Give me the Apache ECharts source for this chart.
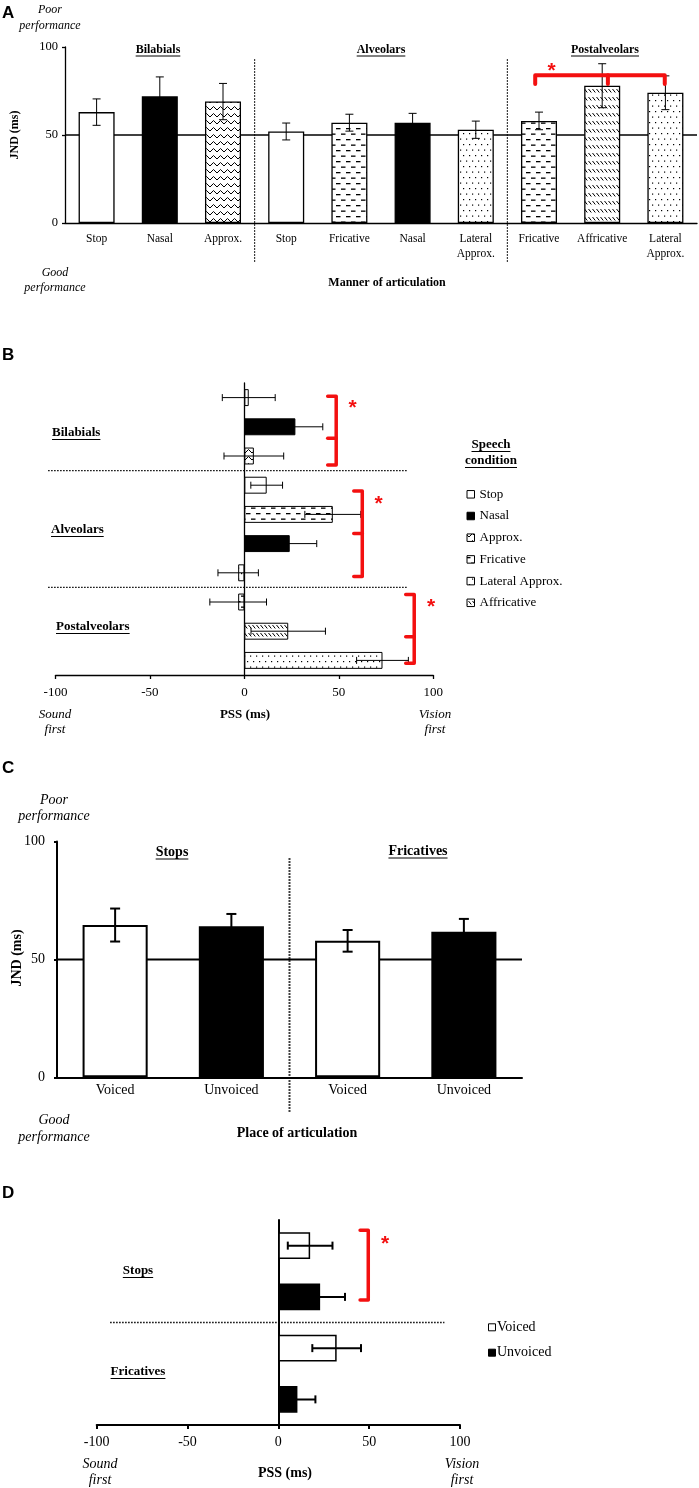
<!DOCTYPE html>
<html>
<head>
<meta charset="utf-8">
<script src="https://cdn.jsdelivr.net/npm/echarts@6/dist/echarts.min.js"></script>
<style>
  html, body { margin: 0; padding: 0; background: #fff; }
  #chart { width: 699px; height: 1488px; }
</style>
</head>
<body>
<div id="chart"></div>
<script>
// ---- data ----
// A: JND (ms) by manner of articulation
const aCategories = ['Stop', 'Nasal', 'Approx.', 'Stop', 'Fricative', 'Nasal', 'Lateral\nApprox.', 'Fricative', 'Affricative', 'Lateral\nApprox.'];
const aKinds = ['stop', 'nasal', 'approx', 'stop', 'fricative', 'nasal', 'lateral', 'fricative', 'affricative', 'lateral'];
const aValues = [63, 72, 69, 52, 57, 57, 53, 58, 78, 74];
const aErrors = [7.5, 11, 10.3, 4.8, 4.8, 5.3, 4.9, 5, 12.5, 9.6];
const aGroups = ['Bilabials', 'Alveolars', 'Postalveolars'];

// B: PSS (ms), same ten conditions top to bottom
const bKinds = ['stop', 'nasal', 'approx', 'stop', 'fricative', 'nasal', 'lateral', 'fricative', 'affricative', 'lateral'];
const bValues = [2.3, 27, 5, 11.8, 46.8, 24, -3.3, -3.3, 23.2, 73.1];
const bErrors = [14, 14.5, 15.8, 8.4, 14.8, 14.3, 10.7, 15, 19.7, 13.7];
const bLegend = ['Stop', 'Nasal', 'Approx.', 'Fricative', 'Lateral Approx.', 'Affricative'];
const bLegendKinds = ['stop', 'nasal', 'approx', 'fricative', 'lateral', 'affricative'];

// C: JND (ms) by voicing
const cCategories = ['Voiced', 'Unvoiced', 'Voiced', 'Unvoiced'];
const cKinds = ['voiced', 'unvoiced', 'voiced', 'unvoiced'];
const cValues = [64.6, 64.1, 57.9, 61.7];
const cErrors = [7, 5.2, 4.6, 5.5];
const cGroups = ['Stops', 'Fricatives'];

// D: PSS (ms) by voicing
const dKinds = ['voiced', 'unvoiced', 'voiced', 'unvoiced'];
const dValues = [17.5, 23, 32.1, 10.5];
const dErrors = [12.3, 13.7, 13.4, 9.9];
const dLegend = ['Voiced', 'Unvoiced'];

// significance brackets (annotation geometry, in axis units)
const aBracket = { from: 6.94, mid: 8.09, to: 8.99, level: 84, tickTo: 79, star: [7.2, 89] };
const bBrackets = [
  { x: 48.6, top: -0.05, mid: 1.39, bottom: 2.31, tick: 4.5, star: [57.3, 0.18] },
  { x: 62.4, top: 3.2, mid: 4.65, bottom: 6.13, tick: 4.5, star: [71.1, 3.47] },
  { x: 89.9, top: 6.74, mid: 8.19, bottom: 9.1, tick: 4.5, star: [98.8, 7.02] }
];
const dBrackets = [{ x: 49.5, top: -0.3, mid: null, bottom: 1.06, tick: 4.5, star: [58.7, -0.12] }];

const SERIF = "'Liberation Serif', 'Times New Roman', serif";
const SANS = "'Liberation Sans', Arial, sans-serif";
const RED = '#f31010';

// hatch fills
function pattern(kind) {
  const c = document.createElement('canvas');
  if (kind === 'approx') { c.width = 7; c.height = 7; }
  else if (kind === 'fricative') { c.width = 10; c.height = 11; }
  else if (kind === 'lateral') { c.width = 6; c.height = 11; }
  else { c.width = 4; c.height = 8; }
  const g = c.getContext('2d');
  g.fillStyle = '#fff';
  g.fillRect(0, 0, c.width, c.height);
  g.fillStyle = '#000';
  g.strokeStyle = '#000';
  g.lineWidth = 1;
  if (kind === 'approx') {
    g.beginPath(); g.moveTo(0, 5); g.lineTo(3.5, 1.5); g.lineTo(7, 5); g.stroke();
  } else if (kind === 'fricative') {
    g.fillRect(1, 1.5, 4.5, 1.3);
    g.fillRect(6, 7, 4, 1.3);
    g.fillRect(0, 7, 0.5, 1.3);
  } else if (kind === 'lateral') {
    g.fillRect(1, 1, 1.2, 1.2);
    g.fillRect(4, 6.5, 1.2, 1.2);
  } else {
    g.beginPath(); g.moveTo(0.5, 1); g.lineTo(3.3, 4.5); g.stroke();
  }
  return { image: c, repeat: 'repeat' };
}

const fills = {
  stop: '#fff', nasal: '#000', voiced: '#fff', unvoiced: '#000',
  approx: pattern('approx'), fricative: pattern('fricative'),
  lateral: pattern('lateral'), affricative: pattern('affricative')
};

function barData(vals, kinds) {
  return vals.map((v, i) => ({ value: v, itemStyle: { color: fills[kinds[i]] } }));
}

// point on a category axis allowing fractional category positions
function pt(api, cat, val, catIsX) {
  const base = Math.max(0, Math.floor(cat));
  const frac = cat - base;
  if (catIsX) {
    const p = api.coord([base, val]);
    return [p[0] + frac * api.size([1, 0])[0], p[1]];
  }
  const p = api.coord([val, base]);
  return [p[0], p[1] + frac * api.size([0, 1])[1]];
}

function errorBars(idx, vals, errs, horizontal, cap, width) {
  return {
    type: 'custom', xAxisIndex: idx, yAxisIndex: idx, z: 3, silent: true,
    data: vals.map((v, i) => horizontal ? [v, i] : [i, v]),
    renderItem(params, api) {
      const i = params.dataIndex, v = vals[i], e = errs[i];
      const st = { stroke: '#000', lineWidth: width };
      const a = horizontal ? api.coord([v - e, i]) : api.coord([i, v - e]);
      const b = horizontal ? api.coord([v + e, i]) : api.coord([i, v + e]);
      const kids = [{ type: 'line', shape: { x1: a[0], y1: a[1], x2: b[0], y2: b[1] }, style: st }];
      [a, b].forEach(p => {
        kids.push(horizontal
          ? { type: 'line', shape: { x1: p[0], y1: p[1] - cap, x2: p[0], y2: p[1] + cap }, style: st }
          : { type: 'line', shape: { x1: p[0] - cap, y1: p[1], x2: p[0] + cap, y2: p[1] }, style: st });
      });
      return { type: 'group', children: kids };
    }
  };
}

function refLine(idx, value, width) {
  return {
    type: 'custom', xAxisIndex: idx, yAxisIndex: idx, z: 1, silent: true,
    data: [[0, value]],
    renderItem(params, api) {
      const cs = params.coordSys;
      const y = api.coord([0, value])[1];
      return { type: 'line', shape: { x1: cs.x, y1: y, x2: cs.x + cs.width, y2: y }, style: { stroke: '#000', lineWidth: width } };
    }
  };
}

// dotted separators between groups: [boundary category, from, to]
function dividers(idx, list, catIsX, width) {
  return {
    type: 'custom', xAxisIndex: idx, yAxisIndex: idx, z: 1, silent: true,
    data: list.map(() => [0, 0]),
    renderItem(params, api) {
      const d = list[params.dataIndex];
      const p1 = pt(api, d[0], d[1], catIsX), p2 = pt(api, d[0], d[2], catIsX);
      return { type: 'line', shape: { x1: p1[0], y1: p1[1], x2: p2[0], y2: p2[1] },
        style: { stroke: '#000', lineWidth: width, lineDash: [1.5, 1.5] } };
    }
  };
}

function star(p) {
  return { type: 'text', x: p[0], y: p[1] + 5,
    style: { text: '*', fill: RED, fontSize: 21, fontWeight: 'bold', fontFamily: SANS,
      align: 'center', verticalAlign: 'middle', textAlign: 'center', textVerticalAlign: 'middle' } };
}

function hBrackets(idx, list, width) {
  return {
    type: 'custom', xAxisIndex: idx, yAxisIndex: idx, z: 5, silent: true,
    data: list.map(() => [0, 0]),
    renderItem(params, api) {
      const b = list[params.dataIndex];
      const st = { stroke: RED, fill: null, lineWidth: width, lineJoin: 'round', lineCap: 'round' };
      const top = pt(api, b.top, b.x, false), bot = pt(api, b.bottom, b.x, false);
      const tx = api.coord([b.x - b.tick, 0])[0];
      const kids = [{ type: 'polyline', shape: { points: [[tx, top[1]], top, bot, [tx, bot[1]]] }, style: st }];
      if (b.mid != null) {
        const m = pt(api, b.mid, b.x, false);
        kids.push({ type: 'line', shape: { x1: tx, y1: m[1], x2: m[0], y2: m[1] }, style: st });
      }
      kids.push(star(pt(api, b.star[1], b.star[0], false)));
      return { type: 'group', children: kids };
    }
  };
}

function vBracket(idx, b, width) {
  return {
    type: 'custom', xAxisIndex: idx, yAxisIndex: idx, z: 5, silent: true,
    data: [[0, 0]],
    renderItem(params, api) {
      const st = { stroke: RED, fill: null, lineWidth: width, lineJoin: 'round', lineCap: 'round' };
      const l = pt(api, b.from, b.level, true), r = pt(api, b.to, b.level, true);
      const m = pt(api, b.mid, b.level, true);
      const ty = api.coord([0, b.tickTo])[1];
      return { type: 'group', children: [
        { type: 'polyline', shape: { points: [[l[0], ty], l, r, [r[0], ty]] }, style: st },
        { type: 'line', shape: { x1: m[0], y1: m[1], x2: m[0], y2: ty }, style: st },
        star(pt(api, b.star[0], b.star[1], true))
      ] };
    }
  };
}

// ---- text helpers ----
const measure = document.createElement('canvas').getContext('2d');
function txt(x, y, text, o) {
  o = o || {};
  const al = o.align || 'center';
  return { type: 'text', x: x, y: y, rotation: o.rot || 0, silent: true, z: 10,
    style: { text: text, fill: '#000', fontSize: o.size || 12, fontFamily: o.family || SERIF,
      fontWeight: o.weight || 'normal', fontStyle: o.italic ? 'italic' : 'normal',
      align: al, textAlign: al, verticalAlign: 'middle', textVerticalAlign: 'middle' } };
}
function uline(x, y, text, size, align) {
  measure.font = 'bold ' + size + 'px ' + SERIF;
  const w = measure.measureText(text).width;
  const x1 = align === 'left' ? x : x - w / 2;
  const yy = y + size * 0.5;
  return { type: 'line', silent: true, z: 10, shape: { x1: x1, y1: yy, x2: x1 + w, y2: yy },
    style: { stroke: '#000', lineWidth: 1 } };
}
function heading(x, y, text, size, align) {
  return [txt(x, y, text, { size: size, weight: 'bold', align: align }), uline(x, y, text, size, align)];
}
function swatch(x, y, s, fill) {
  return { type: 'rect', silent: true, z: 10, shape: { x: x, y: y - s / 2, width: s, height: s },
    style: { fill: fill, stroke: '#000', lineWidth: 1 } };
}

const gfx = [];
// panel letters
[['A', 13], ['B', 355], ['C', 768], ['D', 1193]].forEach(l =>
  gfx.push(txt(2, l[1], l[0], { size: 17, weight: 'bold', family: SANS, align: 'left' })));

// A texts
gfx.push(txt(50, 10, 'Poor', { italic: true }), txt(50, 26, 'performance', { italic: true }));
gfx.push(txt(55, 273, 'Good', { italic: true }), txt(55, 288, 'performance', { italic: true }));
gfx.push(txt(15, 135, 'JND (ms)', { weight: 'bold', rot: Math.PI / 2 }));
gfx.push(txt(387, 283, 'Manner of articulation', { weight: 'bold' }));
[158, 381, 605].forEach((x, i) => gfx.push(...heading(x, 50, aGroups[i], 12)));

// B texts
gfx.push(...heading(52, 433, 'Bilabials', 13, 'left'));
gfx.push(...heading(51, 530, 'Alveolars', 13, 'left'));
gfx.push(...heading(56, 627, 'Postalveolars', 13, 'left'));
gfx.push(txt(55, 715, 'Sound', { italic: true, size: 13 }), txt(55, 730, 'first', { italic: true, size: 13 }));
gfx.push(txt(245, 715, 'PSS (ms)', { weight: 'bold', size: 13 }));
gfx.push(txt(435, 715, 'Vision', { italic: true, size: 13 }), txt(435, 730, 'first', { italic: true, size: 13 }));
gfx.push(...heading(491, 445, 'Speech', 13), ...heading(491, 461, 'condition', 13));
bLegend.forEach((name, i) => {
  const y = 494.3 + 21.7 * i;
  gfx.push(swatch(467, y, 7.5, fills[bLegendKinds[i]]), txt(479.5, y, name, { size: 13, align: 'left' }));
});

// C texts
gfx.push(txt(54, 800, 'Poor', { italic: true, size: 14 }), txt(54, 816, 'performance', { italic: true, size: 14 }));
gfx.push(txt(54, 1120, 'Good', { italic: true, size: 14 }), txt(54, 1137, 'performance', { italic: true, size: 14 }));
gfx.push(txt(17, 958, 'JND (ms)', { weight: 'bold', size: 14, rot: Math.PI / 2 }));
gfx.push(txt(297, 1133, 'Place of articulation', { weight: 'bold', size: 14 }));
gfx.push(...heading(172, 852, cGroups[0], 14), ...heading(418, 851, cGroups[1], 14));

// D texts
gfx.push(...heading(138, 1271, 'Stops', 13), ...heading(138, 1372, 'Fricatives', 13));
gfx.push(txt(100, 1464, 'Sound', { italic: true, size: 14 }), txt(100, 1480, 'first', { italic: true, size: 14 }));
gfx.push(txt(285, 1473, 'PSS (ms)', { weight: 'bold', size: 14 }));
gfx.push(txt(462, 1464, 'Vision', { italic: true, size: 14 }), txt(462, 1480, 'first', { italic: true, size: 14 }));
dLegend.forEach((name, i) => {
  const y = 1327.3 + 25.4 * i;
  gfx.push(swatch(488.5, y, 7, i === 0 ? '#fff' : '#000'), txt(497, y, name, { size: 14, align: 'left' }));
});

// ---- axes ----
const black = (w) => ({ show: true, lineStyle: { color: '#000', width: w } });
function valueAxis(idx, min, max, w, size, margin, tick) {
  return { type: 'value', gridIndex: idx, min: min, max: max, interval: 50,
    axisLine: Object.assign(black(w), { onZero: false }),
    axisTick: { show: true, length: tick, lineStyle: { color: '#000', width: w } },
    axisLabel: { color: '#000', fontSize: size, fontFamily: SERIF, margin: margin },
    splitLine: { show: false } };
}
function catAxis(idx, data, w, labels, extra) {
  return Object.assign({ type: 'category', gridIndex: idx, data: data,
    axisLine: black(w), axisTick: { show: false },
    axisLabel: labels ? Object.assign({ show: true, interval: 0, color: '#000', fontFamily: SERIF }, labels) : { show: false },
    splitLine: { show: false } }, extra || {});
}

const option = {
  animation: false,
  backgroundColor: '#fff',
  textStyle: { fontFamily: SERIF },
  grid: [
    { left: 65, top: 47, width: 632, height: 176, outerBoundsMode: 'none' },
    { left: 55.5, top: 383, width: 377.8, height: 292, outerBoundsMode: 'none' },
    { left: 57, top: 841.6, width: 465, height: 235.7, outerBoundsMode: 'none' },
    { left: 96.7, top: 1220, width: 363.3, height: 205, outerBoundsMode: 'none' }
  ],
  xAxis: [
    catAxis(0, aCategories, 1.3, { fontSize: 11.5, margin: 8, lineHeight: 15 }),
    valueAxis(1, -100, 100, 1.3, 13, 11, 4),
    catAxis(2, cCategories, 2, { fontSize: 14, margin: 6 }),
    valueAxis(3, -100, 100, 2, 14, 10, 4)
  ],
  yAxis: [
    valueAxis(0, 0, 100, 1.3, 12.5, 7, 3),
    catAxis(1, bValues.map((v, i) => 'b' + i), 1.3, null, { inverse: true }),
    valueAxis(2, 0, 100, 2, 14, 12, 3),
    catAxis(3, dValues.map((v, i) => 'd' + i), 2, null, { inverse: true })
  ],
  graphic: { elements: gfx },
  series: [
    // A
    refLine(0, 50, 1.3),
    dividers(0, [[2.5, -22, 93], [6.5, -22, 93]], true, 1.2),
    { type: 'bar', xAxisIndex: 0, yAxisIndex: 0, z: 2, silent: true, barCategoryGap: '43%',
      itemStyle: { borderColor: '#000', borderWidth: 1.3 }, data: barData(aValues, aKinds) },
    errorBars(0, aValues, aErrors, false, 4, 1),
    vBracket(0, aBracket, 4),
    // B
    dividers(1, [[2.5, -103.9, 86.5], [6.5, -103.9, 86.5]], false, 1.2),
    { type: 'bar', xAxisIndex: 1, yAxisIndex: 1, z: 2, silent: true, barCategoryGap: '42%',
      itemStyle: { borderColor: '#000', borderWidth: 1 }, data: barData(bValues, bKinds) },
    errorBars(1, bValues, bErrors, true, 3.5, 1),
    hBrackets(1, bBrackets, 3.5),
    // C
    refLine(2, 50, 2),
    dividers(2, [[1.5, -14.6, 93.6]], true, 2),
    { type: 'bar', xAxisIndex: 2, yAxisIndex: 2, z: 2, silent: true, barCategoryGap: '44%',
      itemStyle: { borderColor: '#000', borderWidth: 2 }, data: barData(cValues, cKinds) },
    errorBars(2, cValues, cErrors, false, 5, 2),
    // D
    dividers(3, [[1.5, -92.6, 91.4]], false, 1.5),
    { type: 'bar', xAxisIndex: 3, yAxisIndex: 3, z: 2, silent: true, barCategoryGap: '48%',
      itemStyle: { borderColor: '#000', borderWidth: 1.5 }, data: barData(dValues, dKinds) },
    errorBars(3, dValues, dErrors, true, 4, 2),
    hBrackets(3, dBrackets, 3.5)
  ]
};

const chart = echarts.init(document.getElementById('chart'), null, { renderer: 'canvas' });
chart.setOption(option);
</script>
</body>
</html>
